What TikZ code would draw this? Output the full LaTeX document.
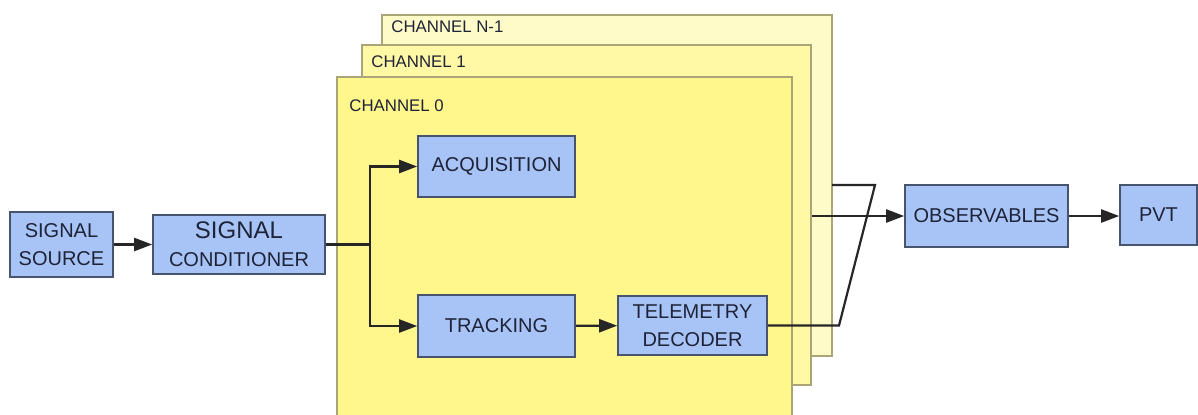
\documentclass[tikz,border=0pt]{standalone}
\usepackage{fontspec}
\setmainfont{Liberation Sans}
\usetikzlibrary{arrows.meta}
\definecolor{boxblue}{RGB}{168,196,246}
\definecolor{boxline}{RGB}{70,84,110}
\definecolor{chzero}{RGB}{255,246,140}
\definecolor{chone}{RGB}{255,248,165}
\definecolor{chlast}{RGB}{255,251,200}
\definecolor{chline}{RGB}{170,165,120}
\definecolor{txt}{RGB}{30,35,55}
\tikzset{
  x=0.5pt, y=-0.5pt,
  blk/.style={draw=boxline, line width=0.8pt, fill=boxblue, inner sep=0pt, align=center,
    text=txt, font=\fontsize{10}{14}\selectfont},
  chan/.style={draw=chline, line width=0.6pt},
  chlabel/.style={anchor=west, inner sep=0pt, text=txt, font=\fontsize{8.4}{10}\selectfont},
  conn/.style={line width=1.1pt, draw=black!85},
  arr/.style={conn, -{Triangle[length=9pt,width=6.5pt]}},
}
\begin{document}
\begin{tikzpicture}
\useasboundingbox (0,0) rectangle (1198,414);
\begin{scope}
\clip (0,0) rectangle (1198,414);
\fill[white] (0,0) rectangle (1198,414);
% channels
\draw[chan, fill=chlast] (382,15) rectangle (832,356);
\node[chlabel] (lN) at (391,27) {CHANNEL N-1};
\draw[chan, fill=chone] (362,45) rectangle (811,385);
\node[chlabel] (l1) at (371,62) {CHANNEL 1};
\draw[chan, fill=chzero] (337,77) rectangle (792,430);
\node[chlabel] (l0) at (349,106) {CHANNEL 0};
\end{scope}
% blocks
\node[blk, minimum width=51.5pt, minimum height=32.5pt] (src) at (61.5,244.5) {SIGNAL\\SOURCE};
\node[blk, minimum width=86pt, minimum height=29.5pt] (cond) at (239,244.5)
  {{\fontsize{12}{14}\selectfont SIGNAL}\\CONDITIONER};
\node[blk, minimum width=78.5pt, minimum height=30.5pt] (acq) at (496.5,166.5) {ACQUISITION};
\node[blk, minimum width=78.5pt, minimum height=31pt] (trk) at (496.5,326) {TRACKING};
\node[blk, minimum width=74.5pt, minimum height=29.5pt] (tlm) at (692.5,325.5) {TELEMETRY\\DECODER};
\node[blk, minimum width=81.5pt, minimum height=31pt] (obs) at (986.5,216) {OBSERVABLES};
\node[blk, minimum width=38.5pt, minimum height=30pt] (pvt) at (1158.5,215) {PVT};
% connectors
\coordinate (split) at (370,244.5);
\coordinate (bend1) at (839,325.5);
\coordinate (bend2) at (875,185);
\coordinate (back) at (832,185);
\coordinate (mid) at (812,216);
\draw[arr] (src) -- (cond);
\draw[conn] (cond.east) -- (split);
\draw[arr] (split) |- (acq.west);
\draw[arr] (split) |- (trk.west);
\draw[arr] (trk) -- (tlm);
\draw[conn] (tlm.east) -- (bend1) -- (bend2) -- (back);
\draw[arr] (mid) -- (obs.west);
\draw[arr] (obs.east) -- (pvt.west |- obs.east);
\end{tikzpicture}
\end{document}
